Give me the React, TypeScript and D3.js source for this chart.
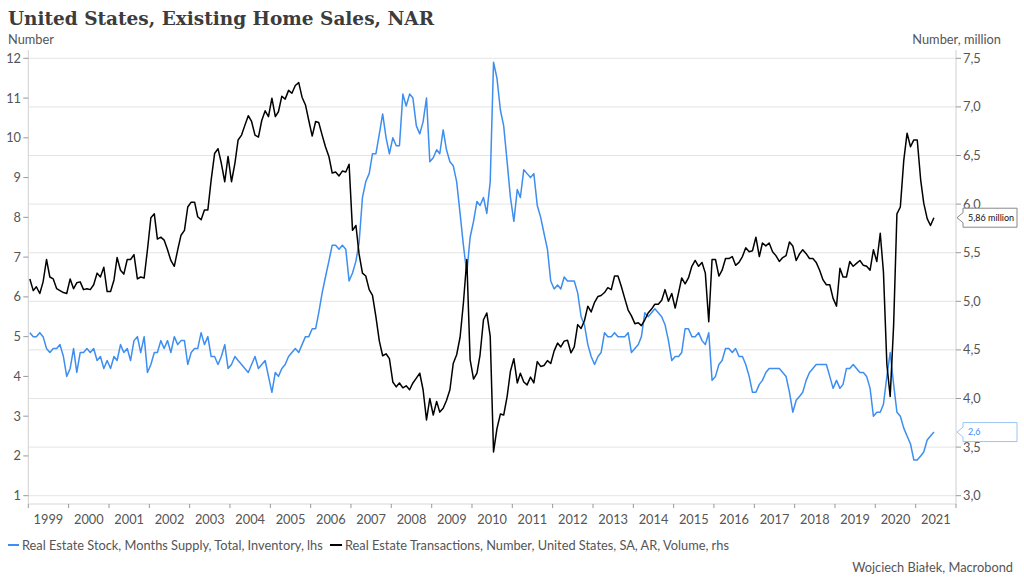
import React from "react";
import * as d3 from "d3";

// Months' supply (lhs), monthly Jan 1999 .. Jun 2021
const monthsSupply: number[] = [
  5.1, 5.0, 5.0, 5.1, 5.0, 4.7, 4.6, 4.7, 4.7, 4.8, 4.5, 4.0,
  4.2, 4.7, 4.1, 4.6, 4.6, 4.7, 4.6, 4.7, 4.4, 4.5, 4.2, 4.4,
  4.2, 4.5, 4.4, 4.8, 4.6, 4.7, 4.4, 4.9, 5.0, 4.6, 5.0, 4.1,
  4.3, 4.6, 4.6, 4.9, 4.7, 4.9, 4.6, 5.0, 4.8, 4.9, 4.9, 4.3,
  4.6, 4.7, 4.7, 5.1, 4.8, 5.0, 4.5, 4.5, 4.3, 4.5, 4.8, 4.2,
  4.3, 4.5, 4.4, 4.3, 4.2, 4.1, 4.3, 4.5, 4.2, 4.3, 4.4, 4.0,
  3.6, 4.1, 4.0, 4.2, 4.3, 4.5, 4.6, 4.7, 4.6, 4.8, 5.0, 5.0,
  5.2, 5.2, 5.6, 6.1, 6.5, 6.9, 7.3, 7.3, 7.2, 7.3, 7.2, 6.4,
  6.6, 6.9, 7.35, 8.5, 8.9, 9.1, 9.6, 9.6, 10.1, 10.6, 10.0, 9.6,
  10.0, 9.8, 9.8, 11.1, 10.8, 11.1, 11.0, 10.3, 10.1, 10.4, 11.0, 9.4,
  9.5, 9.7, 9.6, 10.2, 9.7, 9.4, 9.3, 8.9, 8.1, 7.3, 6.6, 7.5,
  7.9, 8.4, 8.3, 8.5, 8.1, 8.9, 11.9, 11.5, 10.7, 10.3, 9.4, 8.5,
  7.9, 8.7, 8.5, 9.2, 9.1, 9.0, 9.1, 8.3, 8.0, 7.6, 7.2, 6.4,
  6.2, 6.3, 6.2, 6.5, 6.4, 6.4, 6.4, 6.1, 5.5, 5.3, 4.8, 4.5,
  4.3, 4.5, 4.6, 5.1, 5.0, 5.0, 5.1, 5.0, 5.0, 5.0, 5.1, 4.6,
  4.7, 4.8, 5.0, 5.6, 5.5, 5.6, 5.7, 5.6, 5.5, 5.3, 4.9, 4.4,
  4.5, 4.5, 4.6, 5.2, 5.2, 5.0, 5.0, 5.1, 4.9, 4.8, 5.1, 3.9,
  4.0, 4.3, 4.4, 4.7, 4.7, 4.6, 4.7, 4.5, 4.5, 4.3, 4.0, 3.6,
  3.6, 3.8, 3.9, 4.1, 4.2, 4.2, 4.2, 4.2, 4.1, 4.0, 3.6, 3.1,
  3.4, 3.5, 3.6, 3.9, 4.1, 4.2, 4.3, 4.3, 4.3, 4.3, 4.0, 3.7,
  3.9, 3.7, 3.8, 4.2, 4.2, 4.3, 4.2, 4.1, 4.1, 4.0, 3.7, 3.0,
  3.1, 3.1, 3.3, 4.0, 4.6, 3.8, 3.1, 3.0, 2.7, 2.5, 2.3, 1.9,
  1.9, 2.0, 2.1, 2.4, 2.5, 2.6,
];

// Existing home sales, SAAR, million (rhs), monthly Jan 1999 .. Jun 2021
const homeSales: number[] = [
  5.23, 5.11, 5.15, 5.08, 5.20, 5.43, 5.25, 5.23, 5.13, 5.11, 5.09, 5.08,
  5.23, 5.13, 5.19, 5.20, 5.12, 5.13, 5.12, 5.17, 5.29, 5.25, 5.35, 5.10,
  5.10, 5.22, 5.45, 5.32, 5.28, 5.43, 5.43, 5.48, 5.23, 5.25, 5.24, 5.53,
  5.86, 5.90, 5.64, 5.66, 5.63, 5.53, 5.42, 5.36, 5.53, 5.68, 5.73, 5.97,
  6.02, 6.02, 5.87, 5.84, 5.94, 5.94, 6.25, 6.52, 6.57, 6.42, 6.23, 6.49,
  6.23, 6.42, 6.66, 6.71, 6.81, 6.91, 6.85, 6.71, 6.69, 6.86, 6.96, 6.90,
  7.09, 6.90, 6.95, 7.11, 7.08, 7.17, 7.14, 7.22, 7.25, 7.10, 7.02, 6.86,
  6.70, 6.85, 6.84, 6.71, 6.59, 6.49, 6.32, 6.33, 6.29, 6.34, 6.33, 6.41,
  5.73, 5.78, 5.49, 5.29, 5.26, 5.12, 5.06, 4.84, 4.59, 4.44, 4.46, 4.41,
  4.17, 4.12, 4.16, 4.11, 4.13, 4.09, 4.16, 4.21, 4.26, 4.09, 3.78, 4.00,
  3.83, 3.97, 3.86, 3.90, 3.98, 4.09, 4.36, 4.45, 4.63, 4.98, 5.43, 4.40,
  4.20, 4.26, 4.45, 4.81, 4.88, 4.64, 3.45, 3.69, 3.84, 3.83, 4.02, 4.28,
  4.41, 4.16, 4.26, 4.17, 4.14, 4.22, 4.16, 4.38, 4.33, 4.34, 4.39, 4.36,
  4.49, 4.57, 4.53, 4.59, 4.60, 4.47, 4.53, 4.76, 4.72, 4.80, 4.95, 4.89,
  4.99, 5.05, 5.06, 5.09, 5.14, 5.12, 5.26, 5.26, 5.15, 5.03, 4.91, 4.85,
  4.77, 4.78, 4.75, 4.81, 4.88, 4.92, 4.97, 4.97, 5.01, 5.12, 5.00, 5.08,
  4.93, 5.09, 5.24, 5.18, 5.24, 5.36, 5.42, 5.36, 5.40, 5.29, 4.79, 5.43,
  5.43, 5.26, 5.32, 5.44, 5.44, 5.46, 5.37, 5.40, 5.46, 5.55, 5.51, 5.52,
  5.66, 5.46, 5.60, 5.57, 5.60, 5.51, 5.47, 5.41, 5.45, 5.47, 5.61, 5.57,
  5.42, 5.49, 5.53, 5.49, 5.44, 5.44, 5.40, 5.32, 5.22, 5.17, 5.17, 5.03,
  4.95, 5.34, 5.25, 5.25, 5.41, 5.36, 5.39, 5.42, 5.37, 5.36, 5.32, 5.53,
  5.41, 5.70, 5.30, 4.35, 4.02, 4.75, 5.90, 5.97, 6.45, 6.73, 6.59, 6.66,
  6.66, 6.25, 6.01, 5.85, 5.78, 5.86,
];

const startYear = 1999;
const yearLabels: number[] = d3.range(1999, 2022);
const leftTicks: number[] = d3.range(1, 13);
const rightTicks: number[] = [3.0, 3.5, 4.0, 4.5, 5.0, 5.5, 6.0, 6.5, 7.0, 7.5];

const title = "United States, Existing Home Sales, NAR";
const leftUnit = "Number";
const rightUnit = "Number, million";
const legendBlue = "Real Estate Stock, Months Supply, Total, Inventory, lhs";
const legendBlack = "Real Estate Transactions, Number, United States, SA, AR, Volume, rhs";
const credit = "Wojciech Białek, Macrobond";

const BLUE = "#3d8ef0";
const SANS = "Lato, 'Open Sans', sans-serif";
const TXT = "#555";

const fmt = (v: number, d: number) => v.toFixed(d).replace(".", ",");

export default function App() {
  const W = 1024, H = 585;
  const left = 28.3, right = 956, top = 58.3, bottom = 495.7, axisY = 504;

  const x = d3.scaleTime()
    .domain([new Date(1999, 0, 1), new Date(2022, 0, 1)])
    .range([left, right]);
  const yL = d3.scaleLinear().domain([1, 12]).range([bottom, top]);
  const yR = d3.scaleLinear().domain([3.0, 7.5]).range([bottom, top]);

  const dateOf = (i: number) => new Date(startYear + Math.floor(i / 12), i % 12, 15);

  const blueLine = d3.line<number>().x((_, i) => x(dateOf(i))).y((v) => yL(v))(monthsSupply) || "";
  const blackLine = d3.line<number>().x((_, i) => x(dateOf(i))).y((v) => yR(v))(homeSales) || "";

  const lastI = homeSales.length - 1;
  const blackLast = homeSales[lastI];
  const blueLast = monthsSupply[monthsSupply.length - 1];
  const yb = yR(blackLast);
  const yu = yL(blueLast);
  const tag = (yc: number) => {
    const x0 = 963, x1 = 1017, h = 19;
    const t = yc - 9.5, b = t + h;
    return `M${x0},${t}L${x1},${t}L${x1},${b}L${x0},${b}L${x0},${yc + 5}L${957},${yc}L${x0},${yc - 5}Z`;
  };

  const yearTicks = d3.range(1999, 2023).map((yr) => x(new Date(yr, 0, 1)));

  return (
    <svg width={W} height={H} style={{ display: "block", position: "absolute", left: 0, top: 0, background: "#fff" }}>
      <rect x={0} y={0} width={W} height={H} fill="#fff" />
      <text x={8} y={25} fontFamily="'DejaVu Serif', serif" fontWeight="bold" fontSize={18} fill="#3c3c3c"
        textLength={426} lengthAdjust="spacingAndGlyphs">{title}</text>
      <text x={8} y={44} fontFamily={SANS} fontSize={12.8} fill={TXT}>{leftUnit}</text>
      <text x={1001} y={44} fontFamily={SANS} fontSize={12.8} fill={TXT} textAnchor="end">{rightUnit}</text>

      {/* gridlines */}
      {rightTicks.map((t) => (
        <line key={"g" + t} x1={left} x2={right} y1={yR(t)} y2={yR(t)} stroke="#e4e4e4" strokeWidth={1} />
      ))}

      {/* axes lines */}
      <line x1={left} x2={left} y1={50} y2={axisY} stroke="#d0d0d0" />
      <line x1={right} x2={right} y1={50} y2={axisY} stroke="#d0d0d0" />
      <line x1={left} x2={right} y1={axisY} y2={axisY} stroke="#d8d8d8" />

      {/* left ticks */}
      {leftTicks.map((t) => (
        <g key={"l" + t}>
          <line x1={left - 5} x2={left} y1={yL(t)} y2={yL(t)} stroke="#999" />
          <text x={21} y={yL(t)} dy="0.35em" textAnchor="end" fontFamily={SANS} fontSize={12.8} fill={TXT}>{t}</text>
        </g>
      ))}
      {/* right ticks */}
      {rightTicks.map((t) => (
        <g key={"r" + t}>
          <line x1={right} x2={right + 5} y1={yR(t)} y2={yR(t)} stroke="#999" />
          <text x={963} y={yR(t)} dy="0.35em" fontFamily={SANS} fontSize={12.8} fill={TXT}>{fmt(t, 1)}</text>
        </g>
      ))}
      {/* x ticks */}
      {yearTicks.map((xx, i) => (
        <line key={"xt" + i} x1={xx} x2={xx} y1={axisY} y2={axisY + 4} stroke="#999" />
      ))}
      {yearLabels.map((yr) => (
        <text key={"yl" + yr} x={(x(new Date(yr, 0, 1)) + x(new Date(yr + 1, 0, 1))) / 2} y={524}
          textAnchor="middle" fontFamily={SANS} fontSize={12.8} fill={TXT}>{yr}</text>
      ))}

      {/* series */}
      <path d={blueLine} fill="none" stroke={BLUE} strokeWidth={1.5} strokeLinejoin="round" />
      <path d={blackLine} fill="none" stroke="#000" strokeWidth={1.5} strokeLinejoin="round" />

      {/* end tags */}
      <path d={tag(yb)} fill="#fff" stroke="#888" strokeWidth={1} />
      <text x={968} y={yb} dy="0.35em" fontFamily={SANS} fontSize={9} fill="#111">{fmt(blackLast, 2) + " million"}</text>
      <path d={tag(yu)} fill="#fff" stroke="#9cc4f5" strokeWidth={1} />
      <text x={968} y={yu} dy="0.35em" fontFamily={SANS} fontSize={9} fill={BLUE}>{fmt(blueLast, 1)}</text>

      {/* legend */}
      <line x1={8} x2={19} y1={545} y2={545} stroke={BLUE} strokeWidth={2} />
      <text x={22} y={549.5} fontFamily={SANS} fontSize={12.8} fill={TXT}>{legendBlue}</text>
      <line x1={330} x2={342} y1={545} y2={545} stroke="#000" strokeWidth={2} />
      <text x={345} y={549.5} fontFamily={SANS} fontSize={12.8} fill={TXT}>{legendBlack}</text>

      <text x={1013} y={572} textAnchor="end" fontFamily={SANS} fontSize={12.8} fill={TXT}>{credit}</text>
    </svg>
  );
}
